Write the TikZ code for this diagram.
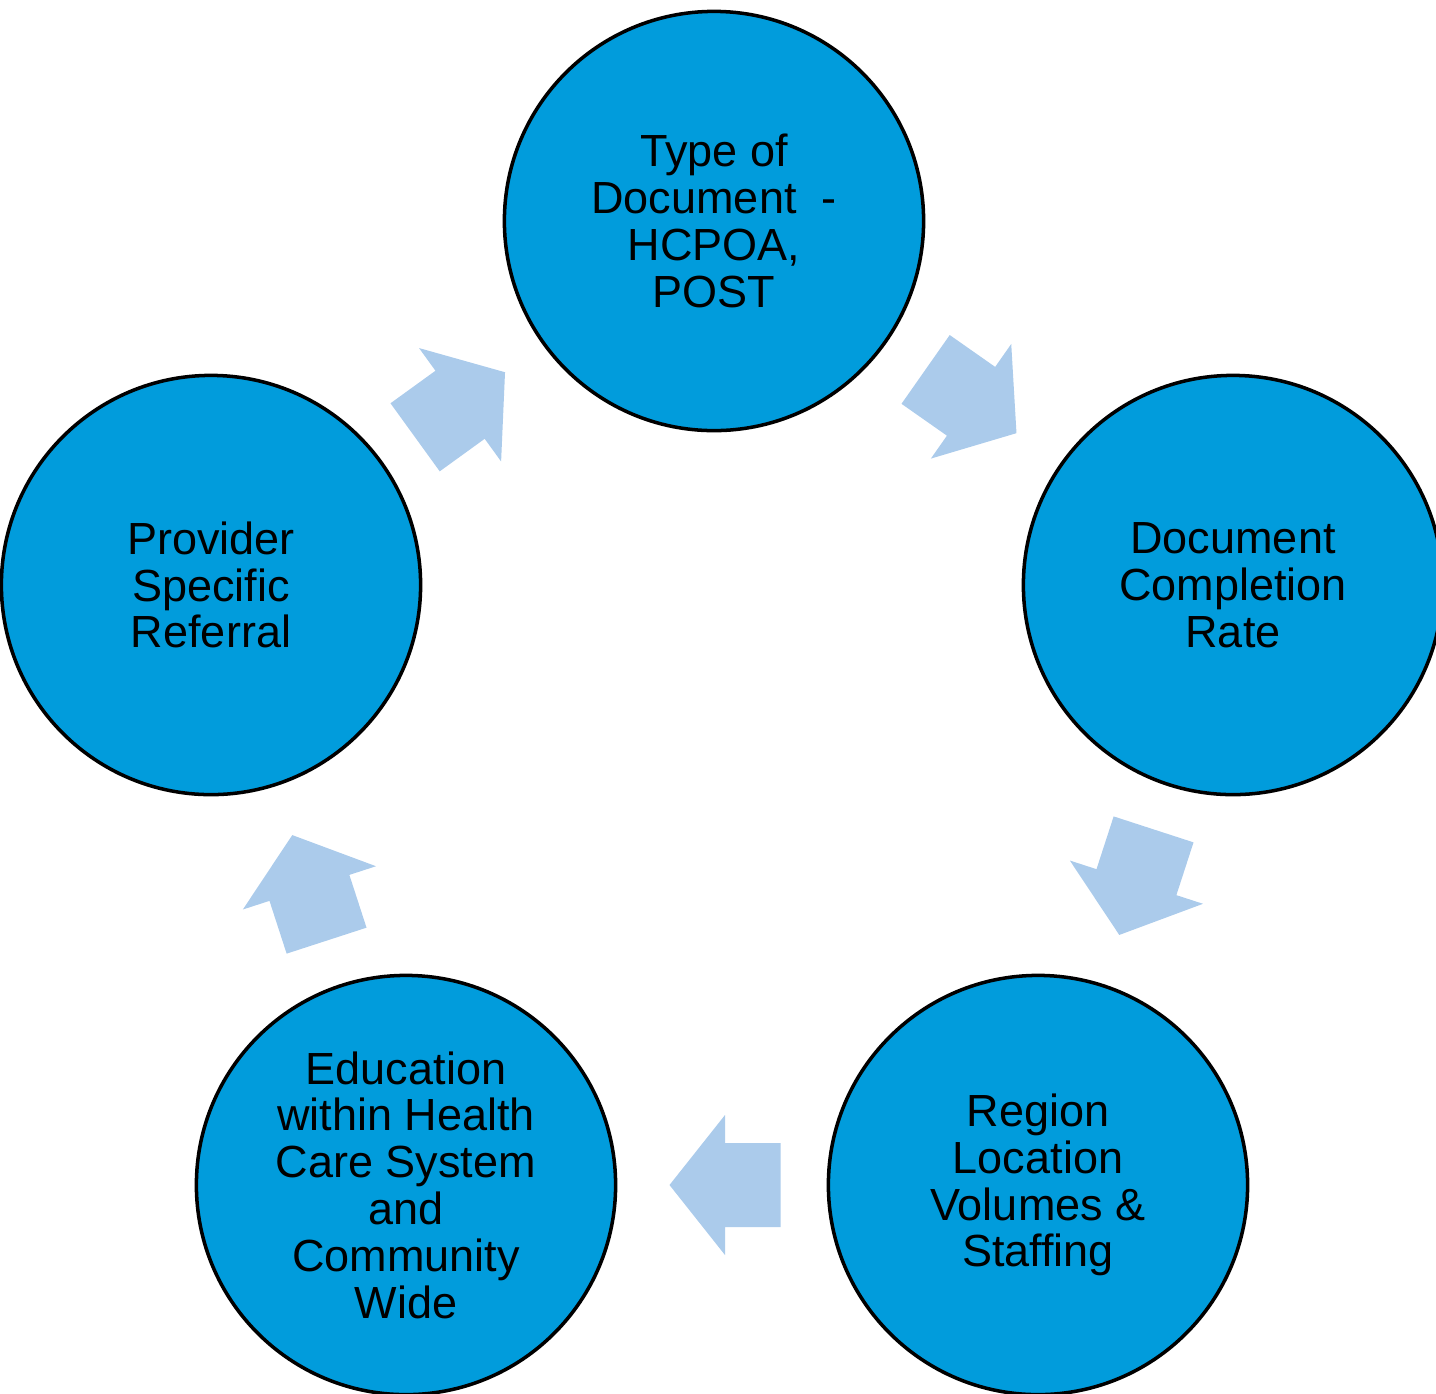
\documentclass[tikz,border=0pt]{standalone}
\usepackage{fontspec}
\setmainfont{Liberation Sans}
\usetikzlibrary{calc}

\definecolor{stageblue}{HTML}{019CDC}
\definecolor{arrowblue}{HTML}{ABCBEB}

\tikzset{
  stage/.style={circle, draw=black, line width=1pt, fill=stageblue,
    minimum size=4.19cm, inner sep=0pt, align=center,
    font=\fontsize{12.8}{13.3}\selectfont},
  cyclearrow/.pic={
    \fill[arrowblue] (52.5,0) -- (-3,70) -- (-3,42) -- (-58.5,42)
      -- (-58.5,-42) -- (-3,-42) -- (-3,-70) -- cycle;}
}

\begin{document}
\begin{tikzpicture}[x=0.01cm, y=-0.01cm]
\useasboundingbox (0,0) rectangle (1436,1393);
\node[stage] (type) at (714,221) {Type of\\Document~~-\\HCPOA,\\POST};
\node[stage] (rate) at (1233,585) {Document\\Completion\\Rate};
\node[stage] (region) at (1038,1185) {Region\\Location\\Volumes \&\\Staffing};
\node[stage] (educ) at (406,1185) {Education\\within Health\\Care System\\and\\Community\\Wide};
\node[stage] (referral) at (211,585) {Provider\\Specific\\Referral};
% block arrows half way between neighbouring stages
\foreach \a/\b in {type/rate, rate/region, region/educ, educ/referral, referral/type}
  \path let \p1=($(\b)-(\a)$), \n1={atan2(\y1,\x1)} in
    ($(\a)!0.5!(\b)$) pic[rotate=\n1] {cyclearrow};
\end{tikzpicture}
\end{document}
